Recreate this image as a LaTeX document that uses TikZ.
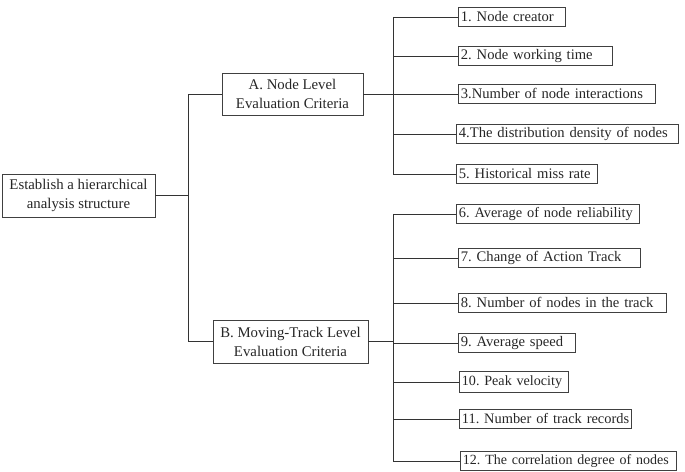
\documentclass[tikz,border=0pt]{standalone}
\usepackage{fontspec}
\setmainfont{Liberation Serif}
\frenchspacing
\begin{document}
\begin{tikzpicture}[x=1pt,y=-1pt,
  conn/.style={line width=0.8pt, draw=black!80},
  mainbox/.style={draw=black!75, line width=0.8pt, rectangle, inner sep=0pt, align=center, font=\fontsize{14.8}{19}\selectfont, text=black!85},
  leafbox/.style={draw=black!75, line width=0.8pt, rectangle, anchor=north west, inner xsep=2.5pt, inner ysep=0pt, minimum height=19pt, align=left, font=\fontsize{14.6}{16}\selectfont, text=black!85}]
\useasboundingbox (0,0) rectangle (685,471);
% main nodes
\node[mainbox, minimum width=153pt, minimum height=43pt] (root) at (78.5,195.5) {Establish a hierarchical\\analysis structure};
\node[mainbox, minimum width=141pt, minimum height=42pt] (A) at (292.5,94) {A. Node Level\\Evaluation Criteria};
\node[mainbox, minimum width=155pt, minimum height=43pt] (B) at (290.5,341.5) {B. Moving-Track Level\\Evaluation Criteria};
% leaves A
\node[leafbox, text width=102pt] (c1) at (458,7) {\mbox{1. Node creator}};
\node[leafbox, text width=149pt] (c2) at (458,46) {\mbox{2. Node working time}};
\node[leafbox, text width=192pt] (c3) at (458,84) {\mbox{3.Number of node interactions}};
\node[leafbox, text width=217pt] (c4) at (456,124) {\mbox{4.The distribution density of nodes}};
\node[leafbox, text width=136pt] (c5) at (456,164) {\mbox{5. Historical miss rate}};
% leaves B
\node[leafbox, text width=178pt] (c6) at (456,204) {\mbox{\fontsize{14.4}{16}\selectfont 6. Average of node reliability}};
\node[leafbox, text width=177pt] (c7) at (458,248) {\mbox{7. Change of Action Track}};
\node[leafbox, text width=203pt] (c8) at (458,293) {\mbox{8. Number of nodes in the track}};
\node[leafbox, text width=112pt] (c9) at (458,333) {\mbox{9. Average speed}};
\node[leafbox, text width=104pt, minimum height=21pt] (c10) at (459,371) {\mbox{\fontsize{14.1}{16}\selectfont 10. Peak velocity}};
\node[leafbox, text width=167pt] (c11) at (459,409) {\mbox{\fontsize{14.4}{16}\selectfont 11. Number of track records}};
\node[leafbox, text width=211pt] (c12) at (460,451) {\mbox{\fontsize{14.0}{16}\selectfont 12. The correlation degree of nodes}};
% trunk coordinates
\coordinate (t0) at (188,0);
\coordinate (tA) at (393,0);
\coordinate (tB) at (393,0);
% root to level 1
\draw[conn] (root.east) -- (root.east -| t0);
\draw[conn] (A.west -| t0) -- (B.west -| t0);
\draw[conn] (A.west) -- (A.west -| t0);
\draw[conn] (B.west) -- (B.west -| t0);
% A branch
\draw[conn] (A.east) -- (A.east -| tA);
\draw[conn] (c1.west -| tA) -- (c5.west -| tA);
\foreach \n in {c1,c2,c3,c4,c5} \draw[conn] (\n.west) -- (\n.west -| tA);
% B branch
\draw[conn] (B.east) -- (B.east -| tB);
\draw[conn] (c6.west -| tB) -- (c12.west -| tB);
\foreach \n in {c6,c7,c8,c9,c10,c11,c12} \draw[conn] (\n.west) -- (\n.west -| tB);
\end{tikzpicture}
\end{document}
